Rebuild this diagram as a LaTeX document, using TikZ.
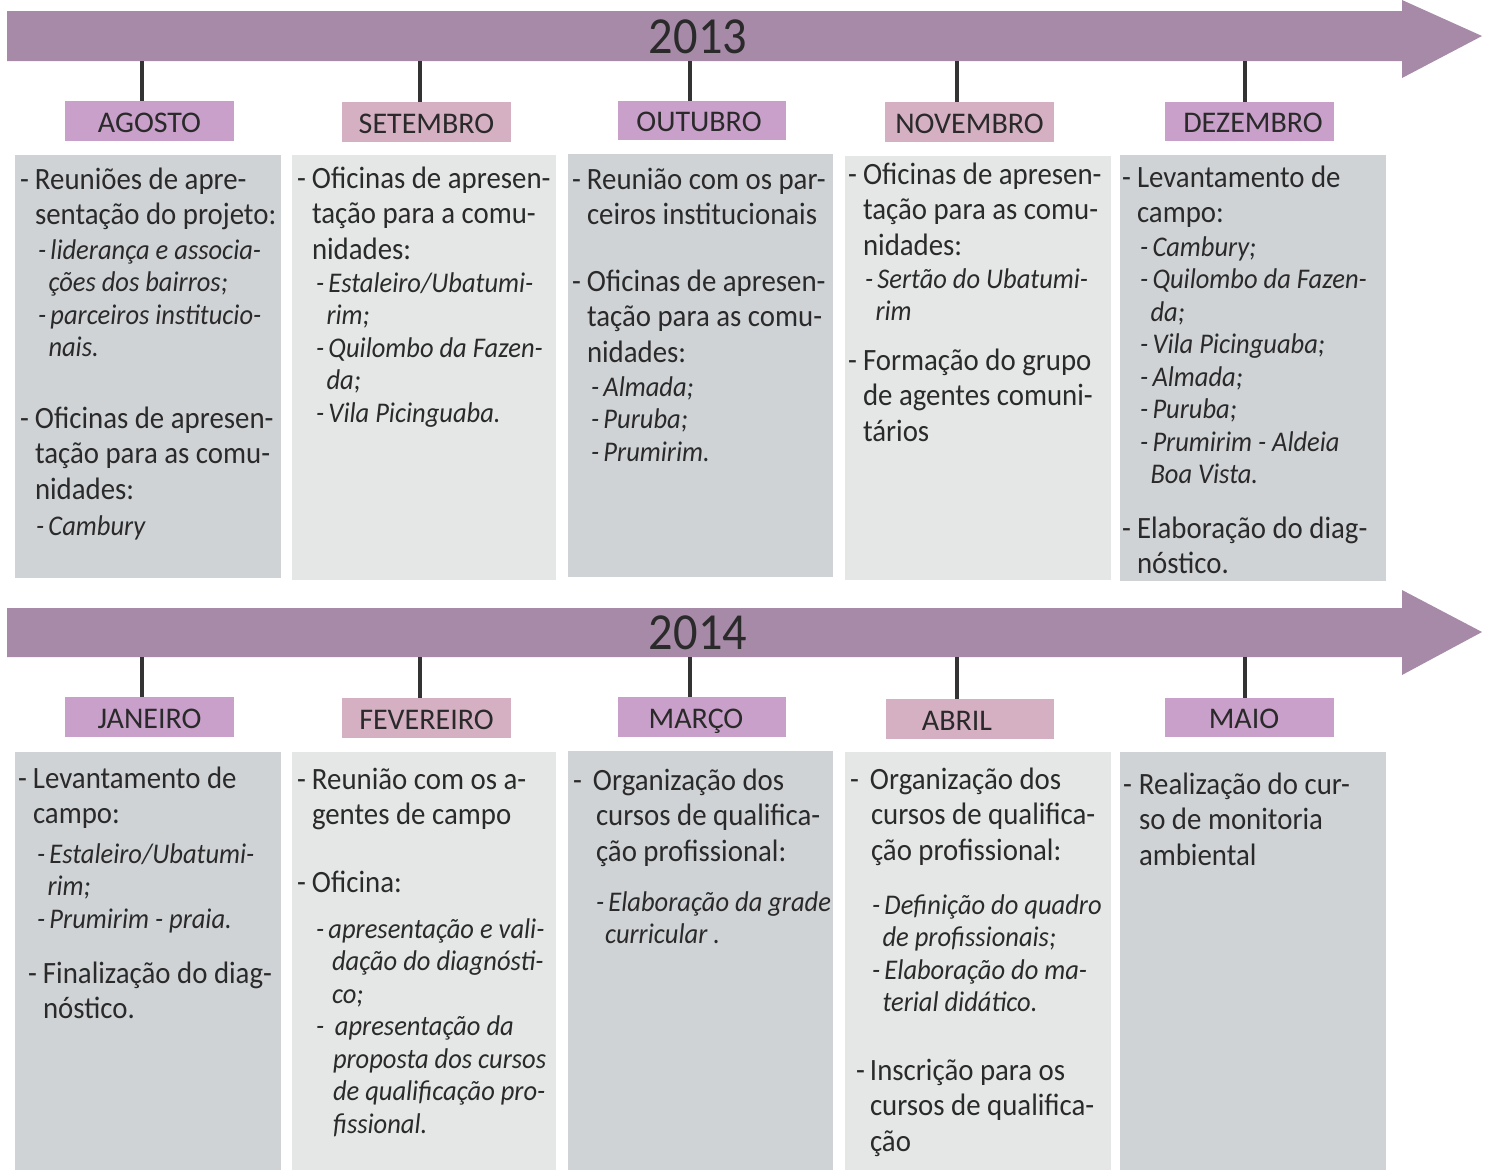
\documentclass[tikz,border=0pt]{standalone}
\usepackage{fontspec}
\setmainfont{Carlito}[FakeStretch=0.93]
\newfontfamily\lblfont{Carlito}
\definecolor{bandc}{HTML}{A78AA8}
\definecolor{lilc}{HTML}{C8A0CA}
\definecolor{pinkc}{HTML}{D4B0C2}
\definecolor{darkbox}{HTML}{D0D3D6}
\definecolor{lightbox}{HTML}{E5E6E6}
\definecolor{tickc}{HTML}{333333}
\definecolor{txtc}{HTML}{2A2A2A}
\newcommand\mtxt[1]{\vtop{\hsize=420pt\parindent=0pt\parskip=0pt\fontsize{31}{35.5}\selectfont #1\par}}
\newcommand\itxt[1]{\vtop{\hsize=420pt\parindent=0pt\parskip=0pt\fontsize{28.5}{32.5}\selectfont\itshape #1\par}}
\newcommand\dsh{\makebox[15pt][l]{-}}
\newcommand\ind{\hspace*{15pt}}
\newcommand\idsh{\makebox[12.5pt][l]{-}}
\newcommand\iind{\hspace*{10.5pt}}
\begin{document}
\begin{tikzpicture}[x=1pt,y=-1pt,
  boxn/.style={inner sep=0pt, outer sep=0pt, draw=none},
  labn/.style={inner sep=0pt, outer sep=0pt, font=\lblfont\fontsize{30}{34}\selectfont, text=txtc, text height=22pt, text depth=0pt},
  mt/.style={anchor=base west, inner sep=0pt, outer sep=0pt, text=txtc},
  yearn/.style={inner sep=0pt, font=\fontsize{52}{60}\selectfont, text=txtc},
  tickl/.style={draw=tickc, line width=4pt}]
\useasboundingbox (0,0) rectangle (1490,1170);

% ---------- 2013 arrow ----------
\fill[bandc] (7,11) -- (1402,11) -- (1402,0) -- (1482,36) -- (1402,78) -- (1402,61) -- (7,61) -- cycle;
\node[yearn] (y13) at (698,37) {2013};
\coordinate (k1) at (142,61);
\coordinate (k2) at (420,61);
\coordinate (k3) at (690,61);
\coordinate (k4) at (957,61);
\coordinate (k5) at (1245,61);

% ---------- 2014 arrow ----------
\fill[bandc] (7,608) -- (1402,608) -- (1402,590) -- (1482,632) -- (1402,675) -- (1402,657) -- (7,657) -- cycle;
\node[yearn] (y14) at (698,633) {2014};
\coordinate (q1) at (142,657);
\coordinate (q2) at (420,657);
\coordinate (q3) at (690,657);
\coordinate (q4) at (957,657);
\coordinate (q5) at (1245,657);

% ---------- month labels ----------
\node[labn, fill=lilc, minimum width=169pt, minimum height=40pt] (l1) at (149.5,121) {AGOSTO};
\node[labn, fill=pinkc, minimum width=169pt, minimum height=40pt] (l2) at (426.5,122) {SETEMBRO};
\node[labn, fill=lilc, minimum width=168pt, minimum height=39pt] (l3) at (702,120.5) {OUTUBRO\hspace*{6pt}};
\node[labn, fill=pinkc, minimum width=169pt, minimum height=40pt] (l4) at (969.5,122) {NOVEMBRO};
\node[labn, fill=lilc, minimum width=169pt, minimum height=39pt] (l5) at (1249.5,121.5) {\hspace*{7pt}DEZEMBRO};
\node[labn, fill=lilc, minimum width=169pt, minimum height=40pt] (m1) at (149.5,717) {JANEIRO};
\node[labn, fill=pinkc, minimum width=169pt, minimum height=40pt] (m2) at (426.5,718) {FEVEREIRO};
\node[labn, fill=lilc, minimum width=168pt, minimum height=40pt] (m3) at (702,717) {MARÇO\hspace*{12pt}};
\node[labn, fill=pinkc, minimum width=168pt, minimum height=40pt] (m4) at (970,719) {ABRIL\hspace*{26pt}};
\node[labn, fill=lilc, minimum width=169pt, minimum height=39pt] (m5) at (1249.5,717.5) {MAIO\hspace*{11pt}};

% ---------- ticks ----------
\draw[tickl] (k1) -- (k1 |- l1.north);
\draw[tickl] (k2) -- (k2 |- l2.north);
\draw[tickl] (k3) -- (k3 |- l3.north);
\draw[tickl] (k4) -- (k4 |- l4.north);
\draw[tickl] (k5) -- (k5 |- l5.north);
\draw[tickl] (q1) -- (q1 |- m1.north);
\draw[tickl] (q2) -- (q2 |- m2.north);
\draw[tickl] (q3) -- (q3 |- m3.north);
\draw[tickl] (q4) -- (q4 |- m4.north);
\draw[tickl] (q5) -- (q5 |- m5.north);

% ---------- content boxes ----------
\node[boxn, fill=darkbox, minimum width=266pt, minimum height=423pt] (b1) at (148,366.5) {};
\node[boxn, fill=lightbox, minimum width=264pt, minimum height=425pt] (b2) at (424,367.5) {};
\node[boxn, fill=darkbox, minimum width=265pt, minimum height=423pt] (b3) at (700.5,365.5) {};
\node[boxn, fill=lightbox, minimum width=266pt, minimum height=424pt] (b4) at (978,368) {};
\node[boxn, fill=darkbox, minimum width=266pt, minimum height=426pt] (b5) at (1253,368) {};
\node[boxn, fill=darkbox, minimum width=266pt, minimum height=418pt] (c1) at (148,961) {};
\node[boxn, fill=lightbox, minimum width=264pt, minimum height=418pt] (c2) at (424,961) {};
\node[boxn, fill=darkbox, minimum width=265pt, minimum height=419pt] (c3) at (700.5,960.5) {};
\node[boxn, fill=lightbox, minimum width=266pt, minimum height=418pt] (c4) at (978,961) {};
\node[boxn, fill=darkbox, minimum width=266pt, minimum height=418pt] (c5) at (1253,961) {};

% ---------- texts 2013 ----------
\node[mt] (t1a) at (20,189) {\mtxt{\dsh Reuniões de apre-\par\ind sentação do projeto:}};
\node[mt] (t1b) at (38,259) {\itxt{\idsh liderança e associa-\par\iind ções dos bairros;\par\idsh parceiros institucio-\par\iind nais.}};
\node[mt] (t1c) at (20,428) {\mtxt{\dsh Oficinas de apresen-\par\ind tação para as comu-\par\ind nidades:}};
\node[mt] (t1d) at (36,535) {\itxt{\idsh Cambury}};

\node[mt] (t2a) at (297,188) {\mtxt{\dsh Oficinas de apresen-\par\ind tação para a comu-\par\ind nidades:}};
\node[mt] (t2b) at (316,292) {\itxt{\idsh Estaleiro/Ubatumi-\par\iind rim;\par\idsh Quilombo da Fazen-\par\iind da;\par\idsh Vila Picinguaba.}};

\node[mt] (t3a) at (572,189) {\mtxt{\dsh Reunião com os par-\par\ind ceiros institucionais}};
\node[mt] (t3b) at (572,291) {\mtxt{\dsh Oficinas de apresen-\par\ind tação para as comu-\par\ind nidades:}};
\node[mt] (t3c) at (591,396) {\itxt{\idsh Almada;\par\idsh Puruba;\par\idsh Prumirim.}};

\node[mt] (t4a) at (848,184) {\mtxt{\dsh Oficinas de apresen-\par\ind tação para as comu-\par\ind nidades:}};
\node[mt] (t4b) at (865,288) {\itxt{\idsh Sertão do Ubatumi-\par\iind rim}};
\node[mt] (t4c) at (848,370) {\mtxt{\dsh Formação do grupo\par\ind de agentes comuni-\par\ind tários}};

\node[mt] (t5a) at (1122,187) {\mtxt{\dsh Levantamento de\par\ind campo:}};
\node[mt] (t5b) at (1140,256) {\itxt{\idsh Cambury;\par\idsh Quilombo da Fazen-\par\iind da;\par\idsh Vila Picinguaba;\par\idsh Almada;\par\idsh Puruba;\par\idsh Prumirim - Aldeia\par\iind Boa Vista.}};
\node[mt] (t5c) at (1122,538) {\mtxt{\dsh Elaboração do diag-\par\ind nóstico.}};

% ---------- texts 2014 ----------
\node[mt] (u1a) at (18,788) {\mtxt{\dsh Levantamento de\par\ind campo:}};
\node[mt] (u1b) at (37,863) {\itxt{\idsh Estaleiro/Ubatumi-\par\iind rim;\par\idsh Prumirim - praia.}};
\node[mt] (u1c) at (28,983) {\mtxt{\dsh Finalização do diag-\par\ind nóstico.}};

\node[mt] (u2a) at (297,789) {\mtxt{\dsh Reunião com os a-\par\ind gentes de campo}};
\node[mt] (u2b) at (297,892) {\mtxt{\dsh Oficina:}};
\node[mt] (u2c) at (316,938) {\itxt{\idsh apresentação e vali-\par\hspace*{16pt}dação do diagnósti-\par\hspace*{16pt}co;\par\makebox[19pt][l]{-}apresentação da\par\hspace*{17pt}proposta dos cursos\par\hspace*{17pt}de qualificação pro-\par\hspace*{17pt}fissional.}};

\node[mt] (u3a) at (573,790) {\mtxt{\makebox[20pt][l]{-}Organização dos\par\hspace*{23pt}cursos de qualifica-\par\hspace*{23pt}ção profissional:}};
\node[mt] (u3b) at (596,911) {\itxt{\idsh Elaboração da grade\par\hspace*{9pt}curricular .}};

\node[mt] (u4a) at (850,789) {\mtxt{\makebox[20pt][l]{-}Organização dos\par\hspace*{21pt}cursos de qualifica-\par\hspace*{21pt}ção profissional:}};
\node[mt] (u4b) at (872,914) {\itxt{\idsh Definição do quadro\par\iind de profissionais;\par\idsh Elaboração do ma-\par\iind terial didático.}};
\node[mt] (u4c) at (856,1080) {\mtxt{\makebox[14pt][l]{-}Inscrição para os\par\hspace*{14pt}cursos de qualifica-\par\hspace*{14pt}ção}};

\node[mt] (u5a) at (1123,794) {\mtxt{\makebox[16pt][l]{-}Realização do cur-\par\hspace*{16pt}so de monitoria\par\hspace*{16pt}ambiental}};
\end{tikzpicture}
\end{document}
